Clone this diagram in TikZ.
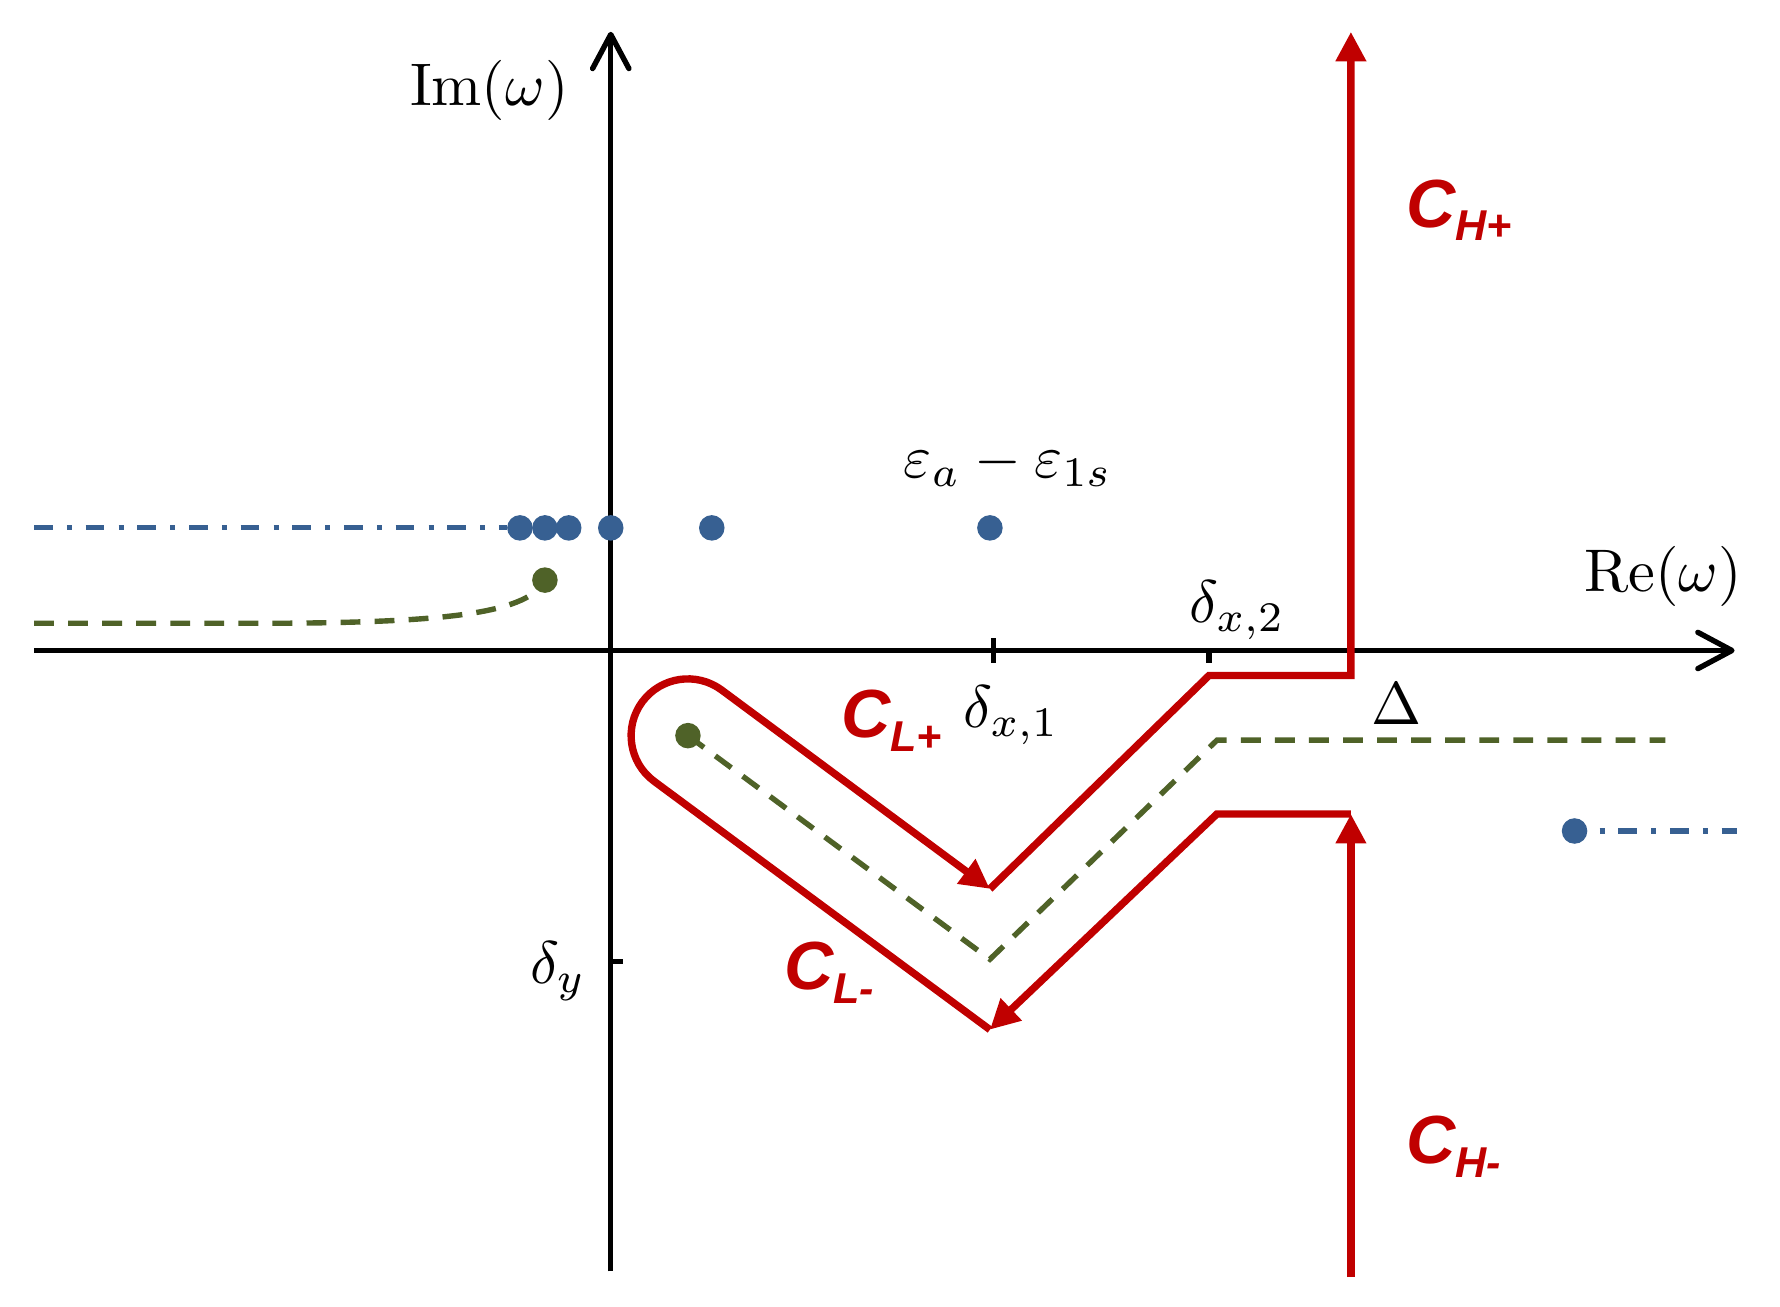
\documentclass[tikz,border=0pt]{standalone}
\usepackage{fontspec}
\newfontfamily\arialf{Liberation Sans}
\usetikzlibrary{arrows.meta}
\definecolor{cred}{HTML}{C00000}
\definecolor{cblue}{HTML}{376092}
\definecolor{cgreen}{HTML}{4F6228}
\newcommand{\clab}[2]{{\arialf\bfseries\itshape\fontsize{12}{14}\selectfont #1\raisebox{-2.4pt}{\fontsize{7.6}{9}\selectfont #2}}}
\tikzset{
  axis/.style={line width=0.95pt, black, -{Straight Barb[length=6pt,width=6.4pt,round]}},
  tickmark/.style={line width=0.95pt, black},
  contour/.style={line width=1.3pt, cred, -{Triangle[length=5.2pt,width=5.1pt]}},
  gdash/.style={line width=0.95pt, cgreen, dash pattern=on 3.5pt off 2.5pt},
  bdd/.style={line width=0.9pt, cblue, dash pattern=on 3.3pt off 2.5pt on 0.9pt off 2.4pt},
  bdd2/.style={line width=0.9pt, cblue, dash pattern=on 0.9pt off 2.4pt on 3.3pt off 2.5pt},
  bdot/.style={circle, fill=cblue, inner sep=0pt, minimum size=4.5pt},
  gdot/.style={circle, fill=cgreen, inner sep=0pt, minimum size=4.5pt},
  lab/.style={inner sep=0pt, scale=1.06},
  clabel/.style={inner sep=0pt, anchor=base west, text=cred}
}
\begin{document}
\begin{tikzpicture}[x=0.2pt,y=0.2pt]
\useasboundingbox (0,0) rectangle (1568,1151);
% axes
\coordinate (xs) at (30,578); \coordinate (xe) at (1528,578);
\coordinate (ys) at (538,31); \coordinate (ye) at (538,1123);
\draw[axis] (xs) -- (xe);
\draw[axis] (ys) -- (ye);
\coordinate (t1a) at (875,567); \coordinate (t1b) at (875,589);
\coordinate (t2a) at (1065,567); \coordinate (t2b) at (1065,578);
\coordinate (t3a) at (538,304); \coordinate (t3b) at (549,304);
\draw[tickmark] (t1a) -- (t1b);
\draw[tickmark] (t2a) -- (t2b);
\draw[tickmark] (t3a) -- (t3b);
% dot positions
\coordinate (pb1) at (458,686); \coordinate (pb2) at (480,686);
\coordinate (pb3) at (501,686); \coordinate (pb4) at (538,686);
\coordinate (pb5) at (627,686); \coordinate (pb6) at (872,686);
\coordinate (pb7) at (1387,419);
\coordinate (pg1) at (480,640); \coordinate (pg2) at (606,503);
% blue lines
\coordinate (bl0) at (30,686); \coordinate (bl1) at (447,686);
\coordinate (br0) at (1409,419); \coordinate (br1) at (1530,419);
\draw[bdd] (bl0) -- (bl1);
\draw[bdd2] (br0) -- (br1);
% green lines
\coordinate (gl0) at (30,602); \coordinate (gl1) at (250,602);
\draw[gdash] (gl0) -- (gl1) .. controls (400,603) and (466,612) .. (pg1);
\coordinate (gv) at (872,306); \coordinate (gc) at (1072,499); \coordinate (ge) at (1467,499);
\draw[gdash] (pg2) -- (gv) -- (gc) -- (ge);
% red contour
\coordinate (hTop) at (1190,1123);
\coordinate (hUpC) at (1190,556);
\coordinate (dx2C) at (1065,556);
\coordinate (vUp) at (872,368);
\coordinate (vLo) at (872,244);
\coordinate (loLo) at (576.2,462.8);
\coordinate (hLoC) at (1072,434);
\coordinate (hLoA) at (1190,434);
\coordinate (hBot) at (1190,26);
\draw[contour] (hBot) -- (hLoA);
\draw[contour] (hLoA) -- (hLoC) -- (vLo);
\draw[contour] (vLo) -- (loLo) arc[start angle=233.5, end angle=53.5, radius=10pt] -- (vUp);
\draw[contour] (vUp) -- (dx2C) -- (hUpC) -- (hTop);
% dots
\foreach \p in {pb1,pb2,pb3,pb4,pb5,pb6,pb7} \node[bdot] (d\p) at (\p) {};
\node[gdot] (dg1) at (pg1) {};
\node[gdot] (dg2) at (pg2) {};
% labels
\node[lab] (im) at (431,1071) {$\mathrm{Im}(\omega)$};
\node[lab] (re) at (1465,643.5) {$\mathrm{Re}(\omega)$};
\node[lab, anchor=base west] (eps) at (795,730) {$\varepsilon_a-\varepsilon_{1s}$};
\node[lab, anchor=base west] (dx1) at (848,510) {$\delta_{x,1}$};
\node[lab, anchor=base west] (dx2) at (1047,603) {$\delta_{x,2}$};
\node[lab, anchor=base] (Del) at (1230,513) {$\Delta$};
\node[lab, anchor=base west] (dy) at (466,285) {$\delta_y$};
\node[clabel] (chp) at (1238,951) {\clab{C}{H+}};
\node[clabel] (chm) at (1238,126) {\clab{C}{H-}};
\node[clabel] (clp) at (740,501) {\clab{C}{L+}};
\node[clabel] (clm) at (690,279) {\clab{C}{L-}};
\end{tikzpicture}
\end{document}
